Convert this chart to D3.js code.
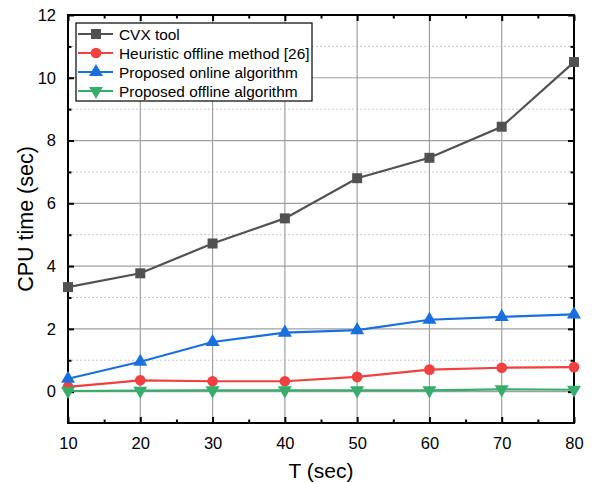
<!DOCTYPE html>
<html>
<head>
<meta charset="utf-8">
<script src="https://cdn.jsdelivr.net/npm/d3@7"></script>
<style>
  body { margin: 0; background: #fff; }
  svg text { font-family: "Liberation Sans", Arial, sans-serif; }
</style>
</head>
<body>
<div id="chart"></div>
<script>
// donnees
var T = [10, 20, 30, 40, 50, 60, 70, 80];
var cvx = [3.33, 3.77, 4.72, 5.52, 6.80, 7.45, 8.44, 10.50];
var heuristic = [0.15, 0.36, 0.33, 0.33, 0.47, 0.70, 0.76, 0.78];
var online = [0.41, 0.95, 1.58, 1.88, 1.96, 2.29, 2.38, 2.46];
var offline = [0.02, 0.03, 0.04, 0.04, 0.04, 0.04, 0.07, 0.06];
var xTicks = [10, 20, 30, 40, 50, 60, 70, 80];
var yTicks = [0, 2, 4, 6, 8, 10, 12];
var yMinor = [1, 3, 5, 7, 9, 11];
var xMinor = [15, 25, 35, 45, 55, 65, 75];

var series = [
    {nom: "CVX tool", val: cvx, coul: "#515151", sym: d3.symbolSquare, taille: 100, rot: 0},
    {nom: "Heuristic offline method [26]", val: heuristic, coul: "#F14040", sym: d3.symbolCircle, taille: 90, rot: 0},
    {nom: "Proposed online algorithm", val: online, coul: "#1A6FDF", sym: d3.symbolTriangle, taille: 85, rot: 0},
    {nom: "Proposed offline algorithm", val: offline, coul: "#37AD6B", sym: d3.symbolTriangle, taille: 85, rot: 180}
];

var W = 593, H = 483;
var g = {left: 68, right: 574, top: 15, bottom: 423};

var svg = d3.select("#chart").append("svg")
    .attr("width", W).attr("height", H);

var x = d3.scaleLinear().domain([10, 80]).range([g.left, g.right]);
var y = d3.scaleLinear().domain([-1, 12]).range([g.bottom, g.top]);

// grille
svg.append("g").selectAll("line").data(yMinor).enter().append("line")
    .attr("x1", g.left).attr("x2", g.right)
    .attr("y1", d => y(d)).attr("y2", d => y(d))
    .attr("stroke", "#c8c8c8").attr("stroke-dasharray", "2,2").attr("stroke-width", 1);
svg.append("g").selectAll("line").data(yTicks).enter().append("line")
    .attr("x1", g.left).attr("x2", g.right)
    .attr("y1", d => y(d)).attr("y2", d => y(d))
    .attr("stroke", "#a0a0a0").attr("stroke-width", 1.2);
svg.append("g").selectAll("line").data(xTicks).enter().append("line")
    .attr("y1", g.top).attr("y2", g.bottom)
    .attr("x1", d => x(d)).attr("x2", d => x(d))
    .attr("stroke", "#a0a0a0").attr("stroke-width", 1.2);

// axes
var axB = svg.append("g").attr("transform", "translate(0," + g.bottom + ")")
    .call(d3.axisBottom(x).tickValues(xTicks).tickSize(-6).tickPadding(14).tickFormat(d3.format("d")));
var axBm = svg.append("g").attr("transform", "translate(0," + g.bottom + ")")
    .call(d3.axisBottom(x).tickValues(xMinor).tickSize(-3.5).tickFormat(""));
var axT = svg.append("g").attr("transform", "translate(0," + g.top + ")")
    .call(d3.axisTop(x).tickValues(xTicks).tickSize(-6).tickFormat(""));
var axTm = svg.append("g").attr("transform", "translate(0," + g.top + ")")
    .call(d3.axisTop(x).tickValues(xMinor).tickSize(-3.5).tickFormat(""));
var axL = svg.append("g").attr("transform", "translate(" + g.left + ",0)")
    .call(d3.axisLeft(y).tickValues(yTicks).tickSize(-6).tickPadding(12).tickFormat(d3.format("d")));
var axLm = svg.append("g").attr("transform", "translate(" + g.left + ",0)")
    .call(d3.axisLeft(y).tickValues(yMinor).tickSize(-3.5).tickFormat(""));
var axR = svg.append("g").attr("transform", "translate(" + g.right + ",0)")
    .call(d3.axisRight(y).tickValues(yTicks).tickSize(-6).tickFormat(""));
var axRm = svg.append("g").attr("transform", "translate(" + g.right + ",0)")
    .call(d3.axisRight(y).tickValues(yMinor).tickSize(-3.5).tickFormat(""));

[axB, axBm, axT, axTm, axL, axLm, axR, axRm].forEach(function(a){
    a.select(".domain").remove();
    a.selectAll(".tick line").attr("stroke", "#000").attr("stroke-width", 2);
    a.selectAll(".tick text").attr("font-size", 16.5).attr("fill", "#000");
});

// cadre
svg.append("rect")
    .attr("x", g.left).attr("y", g.top)
    .attr("width", g.right - g.left).attr("height", g.bottom - g.top)
    .attr("fill", "none").attr("stroke", "#000").attr("stroke-width", 2);

// courbes
var ligne = d3.line().x((d, i) => x(T[i])).y(d => y(d));
series.forEach(function(s){
    svg.append("path").datum(s.val)
        .attr("d", ligne).attr("fill", "none")
        .attr("stroke", s.coul).attr("stroke-width", 2.2);
    svg.append("g").selectAll("path").data(s.val).enter().append("path")
        .attr("d", d3.symbol().type(s.sym).size(s.taille))
        .attr("transform", (d, i) => "translate(" + x(T[i]) + "," + y(d) + ") rotate(" + s.rot + ")")
        .attr("fill", s.coul);
});

// legende
var leg = svg.append("g");
leg.append("rect").attr("x", 76).attr("y", 23).attr("width", 236).attr("height", 78)
    .attr("fill", "#fff").attr("stroke", "#000").attr("stroke-width", 1.2);
series.forEach(function(s, i){
    var yy = 34 + i * 19;
    leg.append("line").attr("x1", 78).attr("x2", 113).attr("y1", yy).attr("y2", yy)
        .attr("stroke", s.coul).attr("stroke-width", 2.2);
    leg.append("path").attr("d", d3.symbol().type(s.sym).size(s.taille))
        .attr("transform", "translate(96," + yy + ") rotate(" + s.rot + ")")
        .attr("fill", s.coul);
    leg.append("text").attr("x", 119).attr("y", yy + 5.5)
        .attr("font-size", 15.4).attr("fill", "#000").text(s.nom);
});

// titres
svg.append("text").attr("x", (g.left + g.right) / 2).attr("y", 478)
    .attr("text-anchor", "middle").attr("font-size", 21).text("T (sec)");
svg.append("text").attr("transform", "translate(33," + ((g.top + g.bottom) / 2) + ") rotate(-90)")
    .attr("text-anchor", "middle").attr("font-size", 21.5).text("CPU time (sec)");
</script>
</body>
</html>
